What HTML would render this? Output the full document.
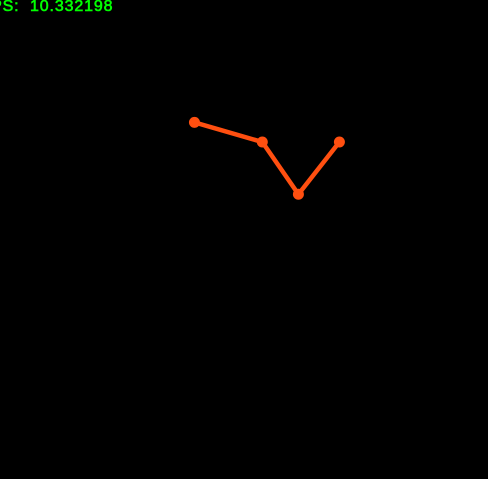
<!DOCTYPE html>
<html lang="en">
<head>
<meta charset="utf-8">
<title>Line chart with FPS counter</title>
<style>
  html, body { margin: 0; padding: 0; background: #000; }
  body { width: 488px; height: 479px; overflow: hidden; }
  svg { display: block; }
  text { font-family: "Liberation Sans", sans-serif; }
</style>
</head>
<body>
<svg id="chart" xmlns="http://www.w3.org/2000/svg" width="488" height="479" viewBox="0 0 488 479">
  <rect x="0" y="0" width="488" height="479" fill="#000000"></rect>
  <text x="-19.5" y="11" font-size="16" letter-spacing="0.85" fill="#00ff00" stroke="#00ff00" stroke-width="0.6" xml:space="preserve">FPS:  10.332198</text>
  <g id="series"></g>
</svg>
<script>
const xValues = [0.3985, 0.5375, 0.6115, 0.6955];
const yValues = [0.7445, 0.7035, 0.5945, 0.7035];

const chartWidth = 488;
const chartHeight = 479;
const seriesColor = '#ff4f10';
const svgNS = 'http://www.w3.org/2000/svg';

function xScale(v) {
  return v * chartWidth;
}

function yScale(v) {
  return chartHeight * (1 - v);
}

const seriesGroup = document.getElementById('series');

const linePoints = xValues.map(function (x, i) {
  return xScale(x) + ',' + yScale(yValues[i]);
}).join(' ');

const line = document.createElementNS(svgNS, 'polyline');


line.setAttribute('points', linePoints);
line.setAttribute('fill', 'none');
line.setAttribute('stroke', seriesColor);
line.setAttribute('stroke-width', '4.5');
line.setAttribute('stroke-linejoin', 'round');
seriesGroup.appendChild(line);

xValues.forEach(function (x, i) {
  const point = document.createElementNS(svgNS, 'circle');
  
  
  point.setAttribute('cx', xScale(x));
  point.setAttribute('cy', yScale(yValues[i]));
  point.setAttribute('r', '5.5');
  point.setAttribute('fill', seriesColor);
  seriesGroup.appendChild(point);
});
</script>
</body>
</html>
